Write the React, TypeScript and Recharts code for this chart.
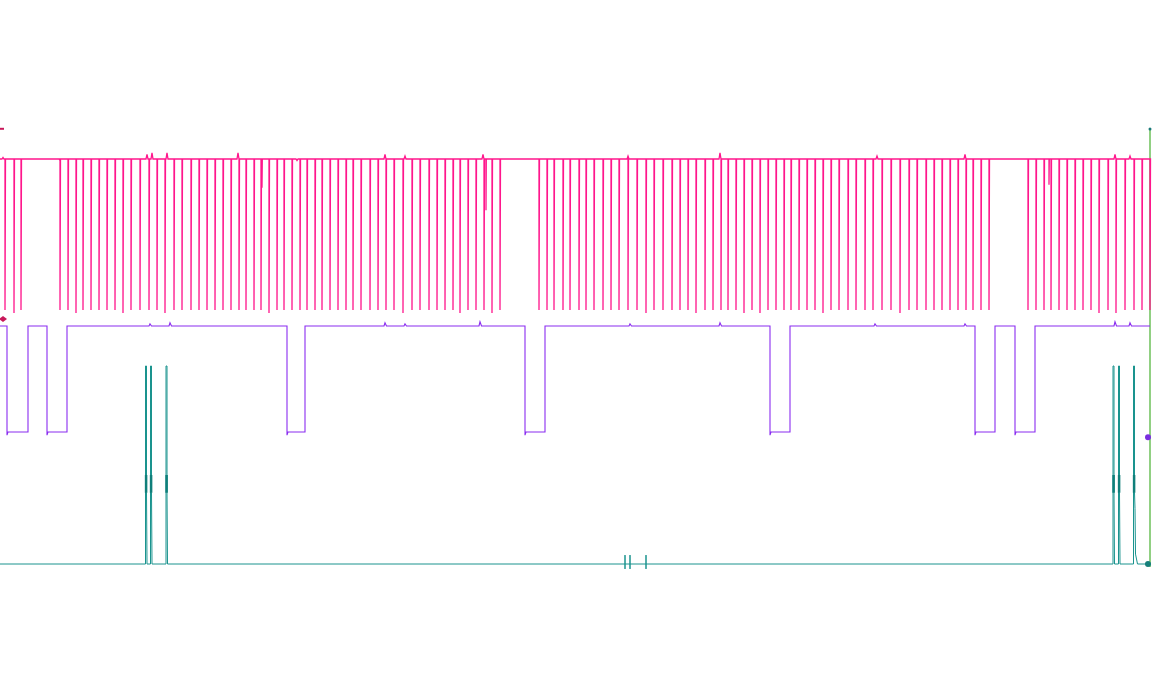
import { Line, LineChart, ReferenceDot, ReferenceLine, XAxis, YAxis } from "recharts";

// sample index (1 unit = 1 px of the capture) for every pulse / edge seen on screen
const pinkSpikes = [
  5, 14, 21, 60, 68, 76, 83, 91, 99, 107, 115, 123, 131, 140, 149, 157, 165, 174, 182, 191,
  199, 207, 215, 223, 231, 239, 246, 254, 261, 269, 277, 284, 292, 300, 307, 315, 322, 330,
  338, 346, 353, 361, 370, 378, 386, 394, 403, 412, 420, 429, 437, 445, 453, 460, 468, 476,
  484, 492, 500, 539, 547, 554, 563, 570, 579, 586, 594, 603, 611, 619, 628, 637, 646, 654,
  663, 672, 680, 688, 696, 705, 713, 721, 728, 736, 744, 752, 760, 768, 776, 784, 791, 799,
  807, 815, 823, 831, 839, 848, 856, 865, 873, 882, 891, 900, 909, 917, 926, 934, 942, 950,
  958, 966, 973, 981, 989, 1028, 1036, 1044, 1051, 1059, 1067, 1075, 1083, 1091, 1099, 1108,
  1116, 1125, 1134, 1142, 1150,
];
const pinkDeep = [14, 76, 123, 165, 269, 299, 403, 460, 492, 646, 696, 744, 760, 823, 900, 1084, 1099, 1116];
const pinkGlitches: [number, number][] = [[262, 0.81], [277, 0.91], [486, 0.66], [1049, 0.83]];
const pinkBumps: [number, number][] = [
  [3, 1.01], [60, 0.99], [147, 1.03], [152, 1.04], [167, 1.04], [238, 1.04], [297, 0.99],
  [385, 1.03], [405, 1.02], [483, 1.03], [628, 1.02], [720, 1.04], [877, 1.02], [965, 1.03],
  [1115, 1.03], [1130, 1.02],
];

const purpleLows: [number, number][] = [
  [7, 28], [47, 67], [287, 305], [525, 545], [770, 790], [975, 995], [1015, 1035],
];
const purpleBumps: [number, number][] = [
  [150, 1.02], [170, 1.03], [385, 1.03], [405, 1.02], [480, 1.04], [630, 1.02], [720, 1.03],
  [875, 1.02], [965, 1.02], [1115, 1.04], [1130, 1.03],
];

const tealPulses = [145.5, 150.5, 166, 1113, 1118.5, 1133.5];
const tealTicks = [625, 630, 646];

const END = 1150;

type Pt = { t: number; v: number | null };
type Feature = { at: number; pts: Pt[] };

function join(base: number, feats: Feature[]): Pt[] {
  const out: Pt[] = [{ t: 0, v: base }];
  feats.sort((a, b) => a.at - b.at).forEach((f) => out.push(...f.pts));
  out.push({ t: END, v: base });
  return out;
}

const pinkData = join(1, [
  ...pinkSpikes.map((x) => {
    const low = pinkDeep.includes(x) ? -0.02 : 0;
    return { at: x, pts: [{ t: x, v: 1 }, { t: x, v: low }, { t: x + 0.5, v: 1 }] };
  }),
  ...pinkGlitches.map(([x, v]) => ({ at: x, pts: [{ t: x, v: 1 }, { t: x, v }, { t: x + 0.3, v: 1 }] })),
  ...pinkBumps.map(([x, v]) => ({ at: x, pts: [{ t: x - 1, v: 1 }, { t: x, v }, { t: x + 1, v: 1 }] })),
]);

const purpleData = join(1, [
  ...purpleLows.map(([a, b]) => ({
    at: a,
    pts: [{ t: a, v: 1 }, { t: a, v: -0.03 }, { t: a + 1, v: 0 }, { t: b, v: 0 }, { t: b, v: 1 }],
  })),
  ...purpleBumps.map(([x, v]) => ({ at: x, pts: [{ t: x - 1, v: 1 }, { t: x, v }, { t: x + 1.5, v: 1 }] })),
]);

const tealData = join(0, [
  ...tealPulses.map((x, i) => ({
    at: x,
    pts: [
      { t: x, v: 0 }, { t: x, v: 1 }, { t: x + 1, v: 1 }, { t: x + 1, v: 0.36 },
      ...(i === 5 ? [{ t: x + 1.5, v: 0.28 }, { t: x + 2, v: 0.05 }, { t: x + 4, v: 0 }] : [{ t: x + 1.5, v: 0 }]),
    ],
  })),
  ...tealTicks.map((x) => ({ at: x, pts: [{ t: x, v: 0 }, { t: x, v: 0.045 }, { t: x, v: -0.025 }, { t: x, v: 0 }] })),
]);

// the dense overlap at the mid level of every pulse
const tealBlocks: Pt[] = tealPulses.flatMap((x) => [
  { t: x + 0.6, v: 0.45 },
  { t: x + 0.6, v: 0.36 },
  { t: x + 0.6, v: null },
]);

const W = 1156;
const H = 700;

// y domain that puts topVal at topPx and bottomVal at bottomPx
function band(topPx: number, topVal: number, bottomPx: number, bottomVal: number): [number, number] {
  const k = (bottomPx - topPx) / (topVal - bottomVal);
  const hi = topVal + topPx / k;
  return [hi - H / k, hi];
}

const Diamond = (props: any) => {
  const { cx, cy } = props;
  return <polygon points={`${cx - 4},${cy} ${cx},${cy - 3} ${cx + 4},${cy} ${cx},${cy + 3}`} fill="#c8185a" />;
};

export default function App() {
  return (
    <div style={{ position: "absolute", left: 0, top: 0, width: W, height: H, background: "#fff" }}>
      <LineChart width={W} height={H} margin={{ top: 0, right: 0, bottom: 0, left: 0 }}>
        <XAxis dataKey="t" type="number" domain={[0, W]} hide allowDataOverflow />
        <YAxis yAxisId="pink" type="number" domain={band(159, 1, 310, 0)} hide allowDataOverflow />
        <YAxis yAxisId="purple" type="number" domain={band(326, 1, 432, 0)} hide allowDataOverflow />
        <YAxis yAxisId="teal" type="number" domain={band(366, 1, 564, 0)} hide allowDataOverflow />
        <YAxis yAxisId="cursor" type="number" domain={band(129, 1, 567, 0)} hide allowDataOverflow />

        <ReferenceLine yAxisId="cursor" segment={[{ x: END, y: 0 }, { x: END, y: 1 }]} stroke="#6cc05a" strokeWidth={1.5} />

        <Line yAxisId="pink" data={pinkData} dataKey="v" type="linear" stroke="#ff168c" strokeWidth={1.3} dot={false} activeDot={false} isAnimationActive={false} />
        <Line yAxisId="purple" data={purpleData} dataKey="v" type="linear" stroke="#8a2cf0" strokeWidth={1.1} dot={false} activeDot={false} isAnimationActive={false} />
        <Line yAxisId="teal" data={tealData} dataKey="v" type="linear" stroke="#1a938e" strokeWidth={1} dot={false} activeDot={false} isAnimationActive={false} />
        <Line yAxisId="teal" data={tealBlocks} dataKey="v" type="linear" stroke="#0f7f7a" strokeWidth={2.5} connectNulls={false} dot={false} activeDot={false} isAnimationActive={false} />

        <ReferenceLine yAxisId="pink" segment={[{ x: 0, y: 1.2 }, { x: 4, y: 1.2 }]} stroke="#c8185a" strokeWidth={2} />
        <ReferenceDot yAxisId="pink" x={3} y={-0.06} shape={Diamond} />
        <ReferenceDot yAxisId="cursor" x={END} y={1} r={1.5} fill="#1a7a78" stroke="none" />
        <ReferenceDot yAxisId="purple" x={END - 2} y={-0.05} r={3} fill="#7a2ee0" stroke="none" />
        <ReferenceDot yAxisId="teal" x={END - 2} y={0} r={3} fill="#157f7a" stroke="none" />
      </LineChart>
    </div>
  );
}
